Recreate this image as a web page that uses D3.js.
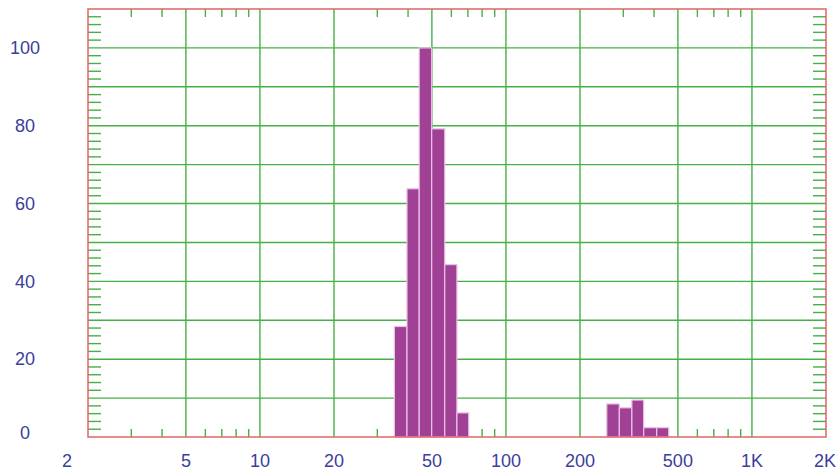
<!DOCTYPE html>
<html>
<head>
<meta charset="utf-8">
<script src="https://cdn.jsdelivr.net/npm/d3@7"></script>
<style>
    body { margin: 0; background: #ffffff; }
    svg { display: block; }
</style>
</head>
<body>
<svg id="chart" width="837" height="471"></svg>
<script>
// bins (log-spaced, lower / upper edges)
let binLow  = [35.2, 39.6, 44.4, 49.9, 56.4, 63.2, 257, 289, 325, 363, 410];
let binHigh = [39.6, 44.4, 49.9, 56.4, 63.2, 70.6, 289, 325, 363, 410, 459];
let counts  = [28.4, 63.8, 100, 79.2, 44.3, 6.2, 8.5, 7.5, 9.5, 2.4, 2.4];

let xTicks = [2, 5, 10, 20, 50, 100, 200, 500, 1000, 2000];
let xTickLabels = ["2", "5", "10", "20", "50", "100", "200", "500", "1K", "2K"];
let xGrid = [5, 10, 20, 50, 100, 200, 500, 1000];
let xMinor = [3, 4, 6, 7, 8, 9, 30, 40, 60, 70, 80, 90, 300, 400, 600, 700, 800, 900];
let yTicks = [0, 20, 40, 60, 80, 100];

let plotLeft = 88, plotRight = 826, plotTop = 9, plotBottom = 437;
let gridColor = "#45b045";
let borderColor = "#e06464";
let textColor = "#3b3e9b";

let xScale = d3.scaleLog().domain([2, 2000]).range([plotLeft, plotRight]);
let yScale = d3.scaleLinear().domain([0, 110]).range([plotBottom, plotTop]);

let svg = d3.select("#chart");

// gridlines
let grid = svg.append("g").attr("stroke", gridColor).attr("stroke-width", 1.4);
grid.selectAll("line.v").data(xGrid).join("line")
    .attr("class", "v")
    .attr("x1", d => xScale(d)).attr("x2", d => xScale(d))
    .attr("y1", plotTop).attr("y2", plotBottom);
grid.selectAll("line.h").data(d3.range(10, 110, 10)).join("line")
    .attr("class", "h")
    .attr("x1", plotLeft).attr("x2", plotRight)
    .attr("y1", d => yScale(d)).attr("y2", d => yScale(d));

// minor ticks, x top and bottom
grid.selectAll("line.xb").data(xMinor).join("line")
    .attr("class", "xb")
    .attr("x1", d => xScale(d)).attr("x2", d => xScale(d))
    .attr("y1", plotBottom).attr("y2", plotBottom - 8);
grid.selectAll("line.xt").data(xMinor).join("line")
    .attr("class", "xt")
    .attr("x1", d => xScale(d)).attr("x2", d => xScale(d))
    .attr("y1", plotTop).attr("y2", plotTop + 8);

// minor ticks, y left and right
let yMinor = d3.range(2, 110, 2).filter(d => d % 10 !== 0);
grid.selectAll("line.yl").data(yMinor).join("line")
    .attr("class", "yl")
    .attr("x1", plotLeft).attr("x2", plotLeft + 13)
    .attr("y1", d => yScale(d)).attr("y2", d => yScale(d));
grid.selectAll("line.yr").data(yMinor).join("line")
    .attr("class", "yr")
    .attr("x1", plotRight - 13).attr("x2", plotRight)
    .attr("y1", d => yScale(d)).attr("y2", d => yScale(d));

// bars
svg.append("g").selectAll("rect").data(counts).join("rect")
    .attr("x", (d, i) => xScale(binLow[i]))
    .attr("width", (d, i) => xScale(binHigh[i]) - xScale(binLow[i]))
    .attr("y", d => yScale(d))
    .attr("height", d => yScale(0) - yScale(d))
    .attr("fill", "#a14196")
    .attr("stroke", "#ebc3e6")
    .attr("stroke-width", 1.2);

// frame
svg.append("rect")
    .attr("x", plotLeft).attr("y", plotTop)
    .attr("width", plotRight - plotLeft).attr("height", plotBottom - plotTop)
    .attr("fill", "none")
    .attr("stroke", borderColor)
    .attr("stroke-width", 1.5);

// labels
let labels = svg.append("g")
    .attr("font-family", "Arial, 'Liberation Sans', sans-serif")
    .attr("font-size", 18)
    .attr("fill", textColor)
    .attr("text-anchor", "middle");

labels.selectAll("text.x").data(xTicks).join("text")
    .attr("class", "x")
    .attr("x", d => xScale(d))
    .attr("dx", (d, i) => i === 0 ? -21 : (i === xTicks.length - 1 ? -1 : 0))
    .attr("y", 467)
    .text((d, i) => xTickLabels[i]);

labels.selectAll("text.y").data(yTicks).join("text")
    .attr("class", "y")
    .attr("x", 25)
    .attr("y", d => yScale(d))
    .attr("dy", d => d === 0 ? "0.1em" : "0.35em")
    .text(d => d);
</script>
</body>
</html>
